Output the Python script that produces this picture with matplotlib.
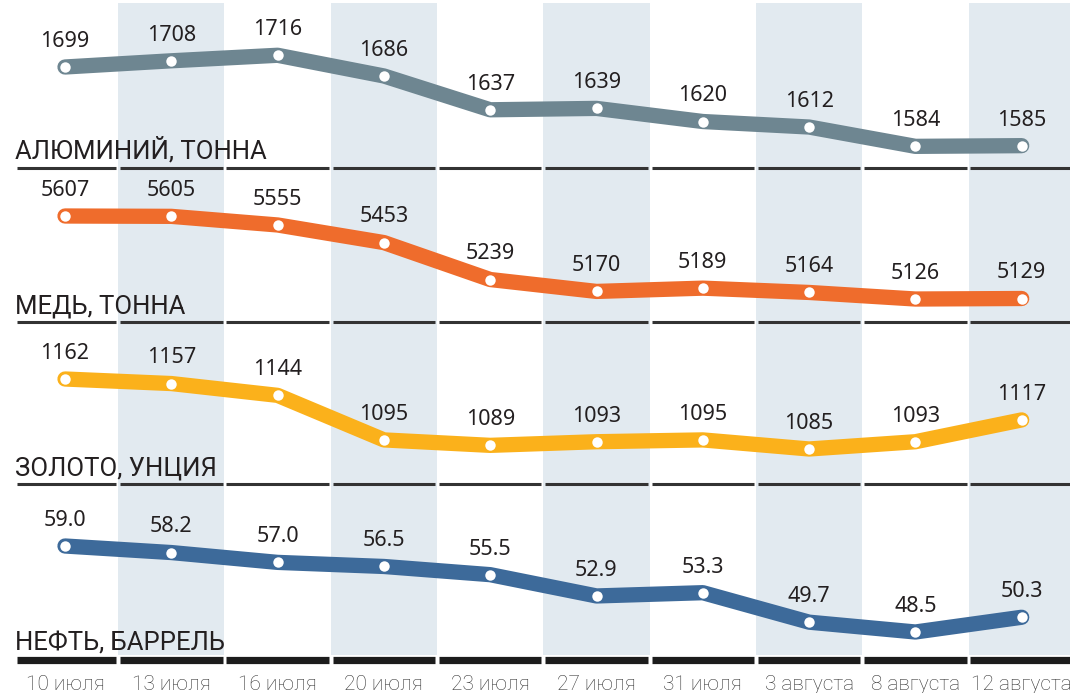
import matplotlib
matplotlib.use("Agg")
import matplotlib.pyplot as plt

dates = ["10 июля", "13 июля", "16 июля", "20 июля", "23 июля", "27 июля",
         "31 июля", "3 августа", "8 августа", "12 августа"]

aluminium = [1699, 1708, 1716, 1686, 1637, 1639, 1620, 1612, 1584, 1585]
copper = [5607, 5605, 5555, 5453, 5239, 5170, 5189, 5164, 5126, 5129]
gold = [1162, 1157, 1144, 1095, 1089, 1093, 1095, 1085, 1093, 1117]
oil = [59.0, 58.2, 57.0, 56.5, 55.5, 52.9, 53.3, 49.7, 48.5, 50.3]

titles = ["АЛЮМИНИЙ, ТОННА", "МЕДЬ, ТОННА", "ЗОЛОТО, УНЦИЯ", "НЕФТЬ, БАРРЕЛЬ"]
series = [aluminium, copper, gold, oil]
colors = ["#6e8691", "#ef6c2c", "#fbb11b", "#3d6a9a"]
fmts = ["{:.0f}", "{:.0f}", "{:.0f}", "{:.1f}"]

W, H = 1070, 693
# panel layout in pixels: top, bottom, reference value, its pixel y, px per unit
panels = [
    (0, 168, 1699, 67, 0.69),
    (168, 322, 5607, 216, 0.1726),
    (322, 484, 1162, 379, 0.909),
    (484, 660, 59.0, 546, 8.19),
]
x0, step = 65, 106.3
xlim = (-x0 / step, (W - x0) / step)

fig = plt.figure(figsize=(W / 100, H / 100), dpi=100)
fig.patch.set_facecolor("white")

# layout layer in pixel units (y grows downward)
bg = fig.add_axes([0, 0, 1, 1])
bg.set_xlim(*xlim)
bg.set_ylim(H, 0)
bg.set_autoscale_on(False)
bg.axis("off")

shade = "#e2eaf0"
for i in range(1, len(dates), 2):
    bg.fill_between([i - 0.5, i + 0.5], [3, 3], [655, 655],
                    color=shade, lw=0, zorder=0)

gap = 0.018
line_ys = [p[1] for p in panels]
for k, ly in enumerate(line_ys):
    last = k == len(line_ys) - 1
    for i in range(len(dates)):
        a = max(i - 0.5, -0.47) + gap
        b = i + 0.5 - gap if i < len(dates) - 1 else xlim[1]
        bg.plot([a, b], [ly, ly], color="#1c1c1c" if last else "#333333",
                lw=5.2 if last else 2.2, solid_capstyle="butt", zorder=2)

for k, t in enumerate(titles):
    bg.text(-0.47, line_ys[k] - 9, t, fontsize=18.5, color="#231f20",
            family=["Roboto", "DejaVu Sans"], va="baseline", ha="left", zorder=3)

for i, d in enumerate(dates):
    bg.text(i, 684, d, fontsize=15, color="#333333", ha="center", va="center",
            family=["Roboto", "DejaVu Sans"], fontweight="light")

xs = list(range(len(dates)))
for (top, bot, v0, p0, s), vals, col, fmt in zip(panels, series, colors, fmts):
    ax = fig.add_axes([0, 1 - bot / H, 1, (bot - top) / H])
    ax.set_xlim(*xlim)
    ax.set_ylim(v0 - (bot - p0) / s, v0 + (p0 - top) / s)
    ax.axis("off")
    ax.plot(xs, vals, color=col, lw=11, solid_capstyle="round",
            solid_joinstyle="round", zorder=3)
    ax.plot(xs, vals, "o", color="white", ms=7.5, mec="none", zorder=4)
    for x, v in zip(xs, vals):
        ax.annotate(fmt.format(v), (x, v), xytext=(0, 14.5), textcoords="offset points",
                    ha="center", va="baseline", fontsize=15.5, color="#231f20",
                    family=["Noto Sans", "Roboto", "DejaVu Sans"],
                    fontstretch="condensed", fontweight="medium")

fig.savefig("out.png", dpi=100, facecolor="white")
